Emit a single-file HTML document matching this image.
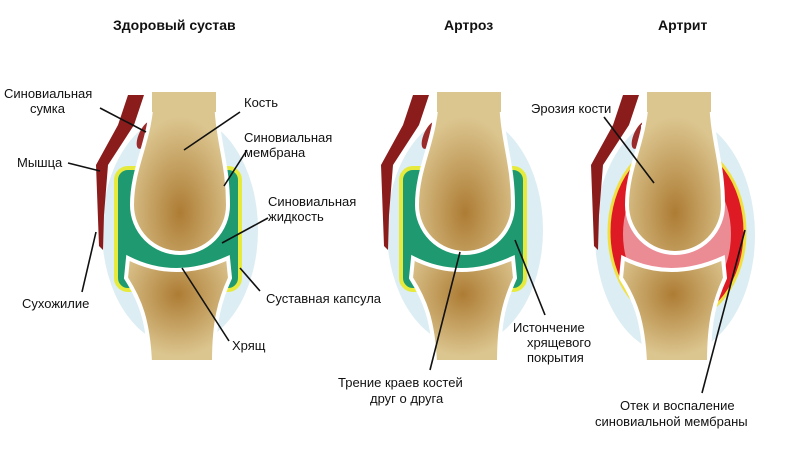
<!DOCTYPE html>
<html><head><meta charset="utf-8"><style>
body{margin:0;background:#fff}
svg{display:block}
text{font-family:"Liberation Sans",sans-serif;font-size:13px;fill:#111}
.t{font-weight:bold;font-size:14px}
</style></head><body>
<svg width="792" height="450" viewBox="0 0 792 450">
<defs>
<radialGradient id="b1" cx="0.5" cy="0.75" r="0.6"><stop offset="0" stop-color="#ad7c34"/><stop offset="1" stop-color="#dcc690"/></radialGradient>
<radialGradient id="b2" cx="0.5" cy="0.35" r="0.6"><stop offset="0" stop-color="#ad7c34"/><stop offset="1" stop-color="#dcc690"/></radialGradient>
<g id="bones">
<path d="M-52 258 Q-5 282 48 258 L50 278 C40 300 34 320 34 362 L-30 362 C-32 320 -40 300 -54 278 Z" fill="url(#b2)" stroke="#fff" stroke-width="4"/>
<path d="M-28 92 L36 92 C36 140 48 160 48 205 A48 48 0 0 1 -48 205 C-48 165 -28 140 -28 92 Z" fill="url(#b1)" stroke="#fff" stroke-width="4"/>
<path d="M-28 92 L36 92 L36 112 L-28 112Z" fill="#dcc690"/>
</g>
<g id="muscle">
<path d="M-52 95 L-36 95 L-46 125 L-72 165 L-76 215 L-77 250 L-81 246 L-84 165 L-62 125 Z" fill="#8a1c1c"/>
<ellipse cx="-35" cy="135" rx="6" ry="15" transform="rotate(25 -35 135)" fill="#9b2a2a"/>
</g>
</defs>

<text class="t" x="113" y="30">Здоровый сустав</text>
<text class="t" x="444" y="30">Артроз</text>
<text class="t" x="658" y="30">Артрит</text>

<g transform="translate(180,0)">
<ellipse cx="0" cy="230" rx="78" ry="116" fill="#dcedf3"/>
<use href="#muscle"/>
<rect x="-64" y="168" width="124" height="122" rx="12" fill="#1f9a70" stroke="#e6ea3c" stroke-width="4"/>
<rect x="-40" y="160" width="78" height="20" fill="#dcedf3"/>
<use href="#bones"/>
</g>
<g transform="translate(465,0)">
<ellipse cx="0" cy="230" rx="78" ry="116" fill="#dcedf3"/>
<use href="#muscle"/>
<rect x="-64" y="168" width="124" height="122" rx="12" fill="#1f9a70" stroke="#e6ea3c" stroke-width="4"/>
<rect x="-40" y="160" width="78" height="20" fill="#dcedf3"/>
<use href="#bones"/>
</g>
<g transform="translate(675,0)">
<ellipse cx="0" cy="235" rx="80" ry="120" fill="#dcedf3"/>
<use href="#muscle"/>
<ellipse cx="2" cy="232" rx="68" ry="90" fill="#de1b24" stroke="#f0e040" stroke-width="3"/>
<ellipse cx="2" cy="234" rx="54" ry="72" fill="#eb8c95"/>
<rect x="-34" y="125" width="72" height="30" fill="#dcedf3"/>
<use href="#bones"/>
</g>

<g stroke="#111" stroke-width="1.6" fill="none">
<line x1="100" y1="108" x2="146" y2="132"/>
<line x1="68" y1="163" x2="100" y2="171"/>
<line x1="82" y1="292" x2="96" y2="232"/>
<line x1="240" y1="112" x2="184" y2="150"/>
<line x1="247" y1="150" x2="224" y2="186"/>
<line x1="268" y1="218" x2="222" y2="243"/>
<line x1="260" y1="291" x2="240" y2="268"/>
<line x1="229" y1="341" x2="182" y2="268"/>
<line x1="430" y1="370" x2="460" y2="252"/>
<line x1="545" y1="315" x2="515" y2="240"/>
<line x1="604" y1="117" x2="654" y2="183"/>
<line x1="702" y1="393" x2="745" y2="230"/>
</g>

<text x="4" y="98">Синовиальная</text>
<text x="30" y="113">сумка</text>
<text x="17" y="167">Мышца</text>
<text x="22" y="308">Сухожилие</text>
<text x="244" y="107">Кость</text>
<text x="244" y="142">Синовиальная</text>
<text x="244" y="157">мембрана</text>
<text x="268" y="206">Синовиальная</text>
<text x="268" y="221">жидкость</text>
<text x="266" y="303">Суставная капсула</text>
<text x="232" y="350">Хрящ</text>
<text x="338" y="387">Трение краев костей</text>
<text x="370" y="403">друг о друга</text>
<text x="513" y="332">Истончение</text>
<text x="527" y="347">хрящевого</text>
<text x="527" y="362">покрытия</text>
<text x="531" y="113">Эрозия кости</text>
<text x="620" y="410">Отек и воспаление</text>
<text x="595" y="426">синовиальной мембраны</text>
</svg>
</body></html>
